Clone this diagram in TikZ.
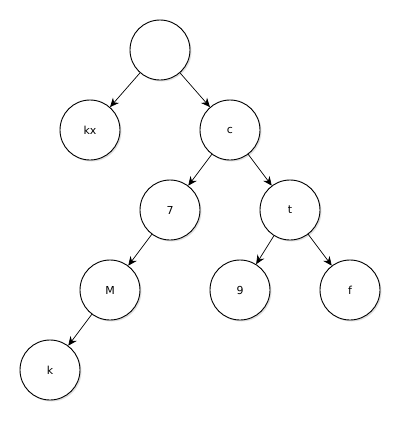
\documentclass[tikz,border=0pt]{standalone}
\usepackage{fontspec}
\setmainfont{DejaVu Sans}
\usetikzlibrary{arrows.meta,shadows}

\begin{document}
\begin{tikzpicture}[
		x=1pt, y=-1pt,
		every node/.style={circle, draw, line width=0.9pt, minimum size=60pt, inner sep=0pt,
			fill=white, font=\fontsize{11}{13}\selectfont,
			drop shadow={shadow xshift=1.5pt, shadow yshift=-1.5pt, opacity=0.25}},
		link/.style={-{Stealth[length=9pt, width=8pt]}, line width=0.7pt}
	]
  \useasboundingbox (0,0) rectangle (403,424);
  \node (root) at (160, 50) {};
  \node (kx) at (90, 130) {kx};
  \node (c) at (230, 130) {c};
  \node (n7) at (170, 210) {7};
  \node (t) at (290, 210) {t};
  \node (M) at (110, 290) {M};
  \node (n9) at (240, 290) {9};
  \node (f) at (350, 290) {f};
  \node (k) at (50, 370) {k};
  \draw[link] (root) edge (kx);
  \draw[link] (root) edge (c);
  \draw[link] (c) edge (n7);
  \draw[link] (c) edge (t);
  \draw[link] (n7) edge (M);
  \draw[link] (t) edge (n9);
  \draw[link] (t) edge (f);
  \draw[link] (M) edge (k);
\end{tikzpicture}
\end{document}
